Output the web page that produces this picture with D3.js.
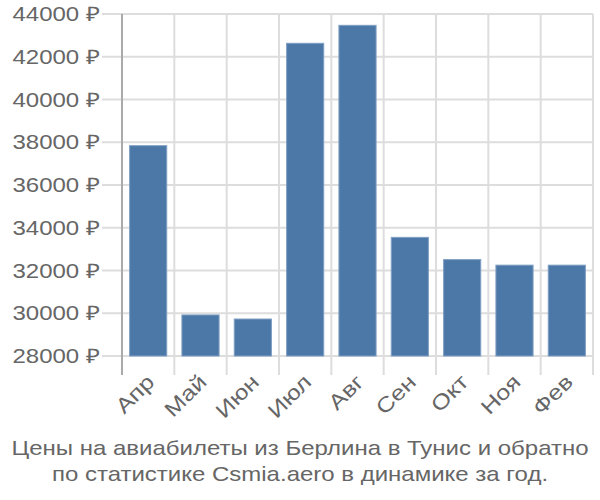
<!DOCTYPE html>
<html><head><meta charset="utf-8">
<script src="https://cdn.jsdelivr.net/npm/d3@7"></script>
<style>body{margin:0;background:#fff}svg{display:block;font-family:"Liberation Sans",Arial,sans-serif}</style>
</head><body>
<svg id="c" width="600" height="500"></svg>
<script>
const categories = ["Апр","Май","Июн","Июл","Авг","Сен","Окт","Ноя","Фев"];
const values = [37840, 29920, 29730, 42630, 43470, 33550, 32510, 32250, 32250];
const yTicks = [28000, 30000, 32000, 34000, 36000, 38000, 40000, 42000, 44000];
const titleLines = ["Цены на авиабилеты из Берлина в Тунис и обратно","по статистике Csmia.aero в динамике за год."];

(function () {
const svg = d3.select("#c");
const pL = 122, pR = 593, pT = 14, pB = 356;
const sx = 1.2;
const x = d3.scaleBand().domain(categories).range([pL, pR]).paddingInner(0.29).paddingOuter(0.145);
const y = d3.scaleLinear().domain([28000, 44000]).range([pB, pT]);
const grid = "#dddddd", text = "#666666";

// horizontal grid
svg.append("g").selectAll("line").data(yTicks).join("line")
  .attr("x1", pL - 20).attr("x2", pR).attr("y1", d => y(d)).attr("y2", d => y(d))
  .attr("stroke", grid).attr("stroke-width", 2);
// vertical grid at band boundaries
const bounds = categories.slice(1).map(c => x(c) - x.step() * x.paddingInner() / 2).concat([pR]);
svg.append("g").selectAll("line").data(bounds).join("line")
  .attr("x1", d => d).attr("x2", d => d).attr("y1", pT).attr("y2", pB + 19)
  .attr("stroke", grid).attr("stroke-width", 2);
// left axis line
svg.append("line").attr("x1", pL).attr("x2", pL).attr("y1", pT).attr("y2", pB + 19)
  .attr("stroke", "#aaaaaa").attr("stroke-width", 2);

// bars
svg.append("g").selectAll("rect").data(values).join("rect")
  .attr("x", (d, i) => x(categories[i])).attr("width", x.bandwidth())
  .attr("y", d => y(d)).attr("height", d => pB - y(d))
  .attr("fill", "#4c78a8").attr("stroke", "#7f9fc4").attr("stroke-width", 1);

// y labels
svg.append("g").selectAll("text").data(yTicks).join("text")
  .attr("transform", d => `translate(100,${y(d)}) scale(${sx},1)`)
  .attr("dy", "0.36em").attr("text-anchor", "end")
  .attr("font-size", 20).attr("fill", text).text(d => d + " ₽");

// x labels
svg.append("g").selectAll("text").data(categories).join("text")
  .attr("transform", d => `translate(${x(d) + x.bandwidth() / 2 - 3},${pB + 17}) rotate(-45) scale(${sx},1)`)
  .attr("text-anchor", "end").attr("dy", "0.7em")
  .attr("font-size", 21).attr("fill", text).text(d => d);

// title
svg.append("g").selectAll("text").data(titleLines).join("text")
  .attr("transform", (d, i) => `translate(300,${455 + i * 26}) scale(${sx},1)`)
  .attr("text-anchor", "middle")
  .attr("font-size", 20).attr("fill", text).text(d => d);
})();
</script>
</body></html>
